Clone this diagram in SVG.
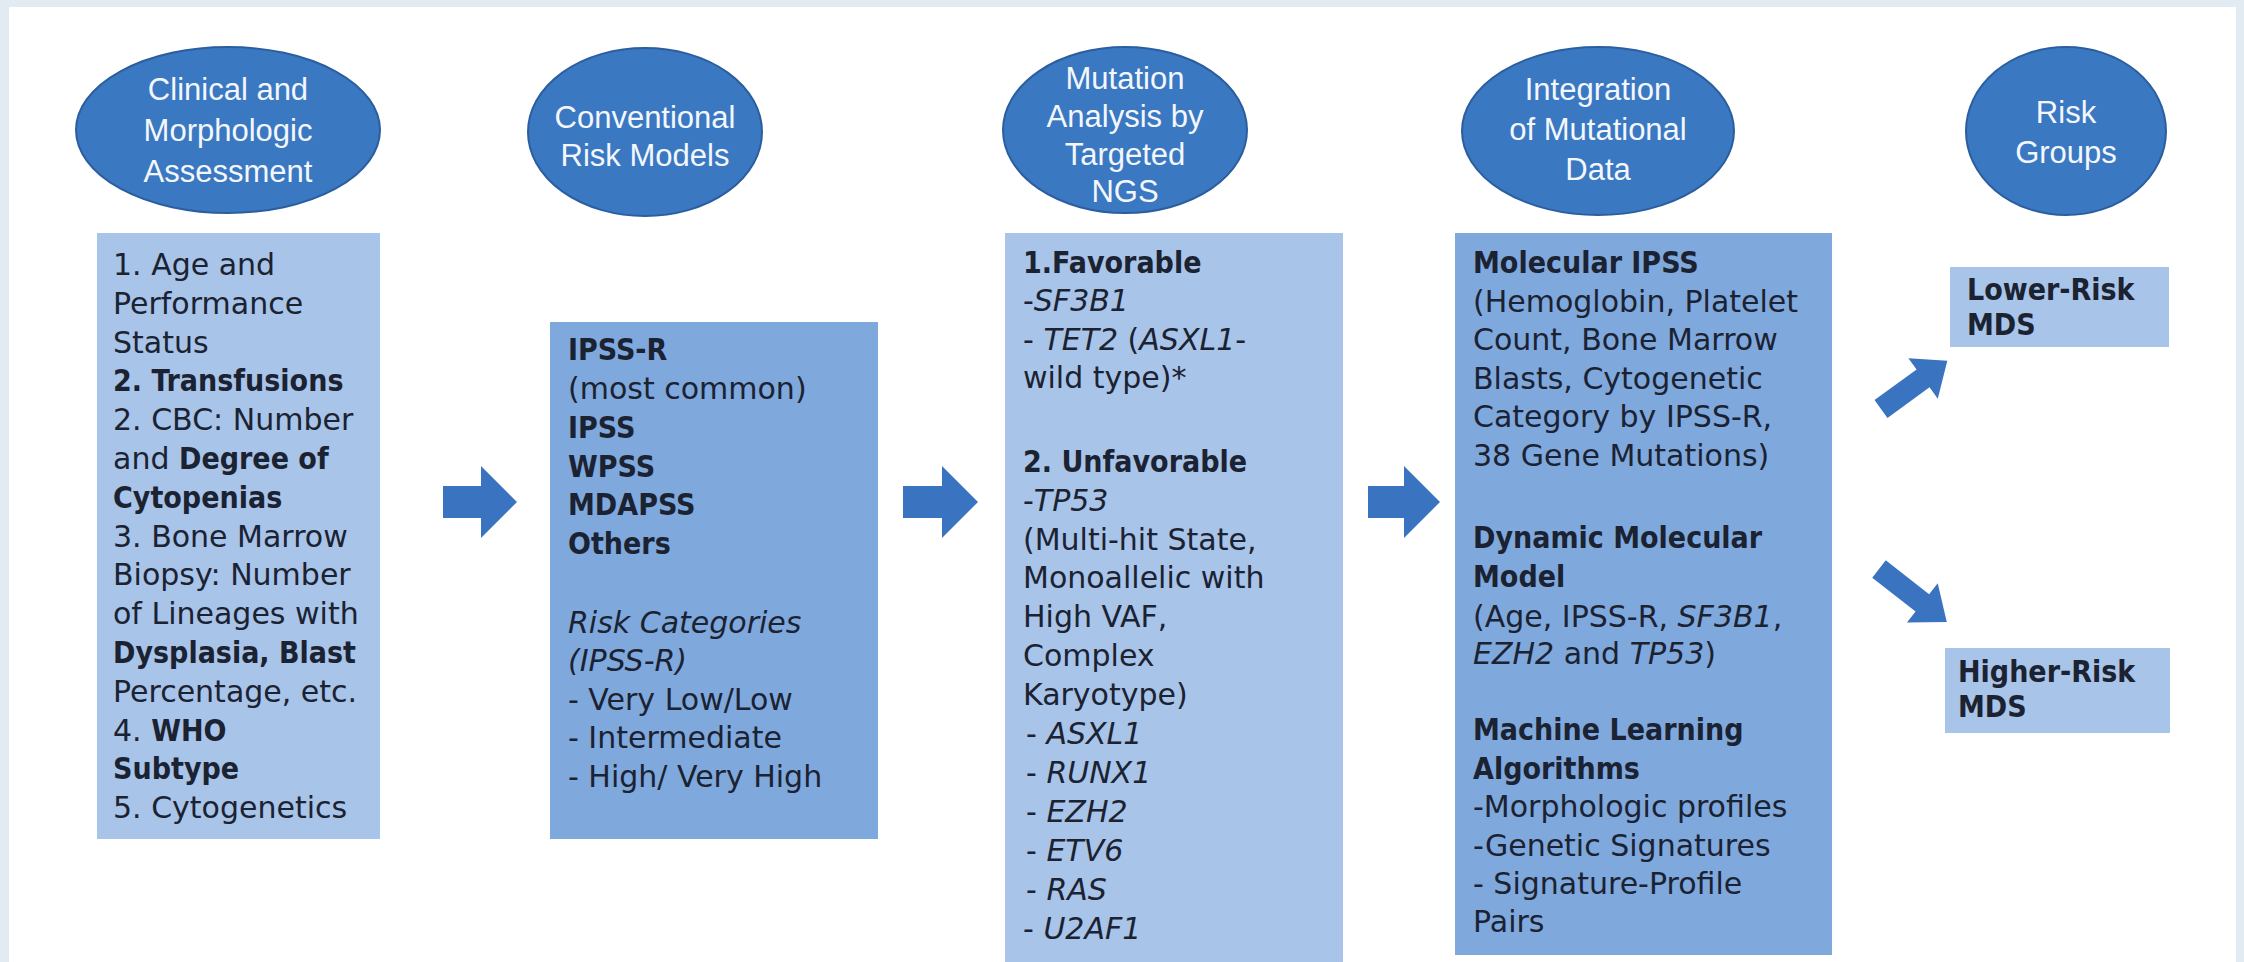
<svg xmlns="http://www.w3.org/2000/svg" width="2244" height="962" viewBox="0 0 2244 962">
<style>
.ell{fill:#3b78c2;stroke:#2b5e9e;stroke-width:2}
.et{font-family:"Liberation Sans",Arial,sans-serif;font-size:31px;fill:#f3f7fc;text-anchor:middle}
.t{font-family:"DejaVu Sans",Verdana,sans-serif;font-size:30px;fill:#1b2232}
.bd{font-family:"DejaVu Sans Condensed","DejaVu Sans",Verdana,sans-serif;font-weight:bold;font-stretch:condensed}
.it{font-style:italic}
.light{fill:#a8c4e8}
.mid{fill:#7fa8dd}
.arr{fill:#3a74c0}
</style>
<rect x="0" y="0" width="2244" height="962" fill="#e2eaf2"/>
<rect x="9" y="7" width="2227" height="955" fill="#ffffff"/>

<g id="connectors">
<path class="arr" d="M443,486 L481,486 L481,466 L517,502 L481,538 L481,518 L443,518 Z"/>
<path class="arr" d="M903,486 L942,486 L942,466 L978,502 L942,538 L942,518 L903,518 Z"/>
<path class="arr" d="M1368,486 L1404,486 L1404,466 L1440,502 L1404,538 L1404,518 L1368,518 Z"/>
<path class="arr" transform="translate(1881,409) rotate(-36)" d="M0,-11 L52,-11 L52,-25 L82,0 L52,25 L52,11 L0,11 Z"/>
<path class="arr" transform="translate(1879,569) rotate(38)" d="M0,-11 L55,-11 L55,-25 L86,0 L55,25 L55,11 L0,11 Z"/>
</g>

<g id="h1">
<ellipse class="ell" cx="228" cy="130" rx="152" ry="83"/>
<text class="et"><tspan x="228" y="100">Clinical and</tspan><tspan x="228" y="141">Morphologic</tspan><tspan x="228" y="182">Assessment</tspan></text>
</g>
<g id="h2">
<ellipse class="ell" cx="645" cy="132" rx="117" ry="84"/>
<text class="et"><tspan x="645" y="128">Conventional</tspan><tspan x="645" y="166">Risk Models</tspan></text>
</g>
<g id="h3">
<ellipse class="ell" cx="1125" cy="130" rx="122" ry="83"/>
<text class="et"><tspan x="1125" y="89">Mutation</tspan><tspan x="1125" y="127">Analysis by</tspan><tspan x="1125" y="165">Targeted</tspan><tspan x="1125" y="202">NGS</tspan></text>
</g>
<g id="h4">
<ellipse class="ell" cx="1598" cy="131" rx="136" ry="84"/>
<text class="et"><tspan x="1598" y="100">Integration</tspan><tspan x="1598" y="140">of Mutational</tspan><tspan x="1598" y="180">Data</tspan></text>
</g>
<g id="h5">
<ellipse class="ell" cx="2066" cy="131" rx="100" ry="84"/>
<text class="et"><tspan x="2066" y="123">Risk</tspan><tspan x="2066" y="163">Groups</tspan></text>
</g>

<g id="box1">
<rect class="light" x="97" y="233" width="283" height="606"/>
<text class="t">
<tspan x="113" y="275">1. Age and</tspan>
<tspan x="113" y="314">Performance</tspan>
<tspan x="113" y="353">Status</tspan>
<tspan x="113" y="391" class="bd">2. Transfusions</tspan>
<tspan x="113" y="430">2. CBC: Number</tspan>
<tspan x="113" y="469">and <tspan class="bd">Degree of</tspan></tspan>
<tspan x="113" y="508" class="bd">Cytopenias</tspan>
<tspan x="113" y="547">3. Bone Marrow</tspan>
<tspan x="113" y="585">Biopsy: Number</tspan>
<tspan x="113" y="624">of Lineages with</tspan>
<tspan x="113" y="663" class="bd">Dysplasia, Blast</tspan>
<tspan x="113" y="702">Percentage, etc.</tspan>
<tspan x="113" y="741">4. <tspan class="bd">WHO</tspan></tspan>
<tspan x="113" y="779" class="bd">Subtype</tspan>
<tspan x="113" y="818">5. Cytogenetics</tspan>
</text>
</g>

<g id="box2">
<rect class="mid" x="550" y="322" width="328" height="517"/>
<text class="t">
<tspan x="568" y="360" class="bd">IPSS-R</tspan>
<tspan x="568" y="399">(most common)</tspan>
<tspan x="568" y="438" class="bd">IPSS</tspan>
<tspan x="568" y="477" class="bd">WPSS</tspan>
<tspan x="568" y="515" class="bd">MDAPSS</tspan>
<tspan x="568" y="554" class="bd">Others</tspan>
<tspan x="568" y="633" class="it">Risk Categories</tspan>
<tspan x="568" y="671" class="it">(IPSS-R)</tspan>
<tspan x="568" y="710">- Very Low/Low</tspan>
<tspan x="568" y="748">- Intermediate</tspan>
<tspan x="568" y="787">- High/ Very High</tspan>
</text>
</g>

<g id="box3">
<rect class="light" x="1005" y="233" width="338" height="729"/>
<text class="t">
<tspan x="1023" y="273" class="bd">1.Favorable</tspan>
<tspan x="1023" y="311">-<tspan class="it">SF3B1</tspan></tspan>
<tspan x="1023" y="350">- <tspan class="it">TET2</tspan> (<tspan class="it">ASXL1</tspan>-</tspan>
<tspan x="1023" y="388">wild type)*</tspan>
<tspan x="1023" y="472" class="bd">2. Unfavorable</tspan>
<tspan x="1023" y="511">-<tspan class="it">TP53</tspan></tspan>
<tspan x="1023" y="550">(Multi-hit State,</tspan>
<tspan x="1023" y="588">Monoallelic with</tspan>
<tspan x="1023" y="627">High VAF,</tspan>
<tspan x="1023" y="666">Complex</tspan>
<tspan x="1023" y="705">Karyotype)</tspan>
<tspan x="1026" y="744">- <tspan class="it">ASXL1</tspan></tspan>
<tspan x="1026" y="783">- <tspan class="it">RUNX1</tspan></tspan>
<tspan x="1026" y="822">- <tspan class="it">EZH2</tspan></tspan>
<tspan x="1026" y="861">- <tspan class="it">ETV6</tspan></tspan>
<tspan x="1026" y="900">- <tspan class="it">RAS</tspan></tspan>
<tspan x="1023" y="939">-  <tspan class="it">U2AF1</tspan></tspan>
</text>
</g>

<g id="box4">
<rect class="mid" x="1455" y="233" width="377" height="722"/>
<text class="t">
<tspan x="1473" y="273" class="bd">Molecular IPSS</tspan>
<tspan x="1473" y="312">(Hemoglobin, Platelet</tspan>
<tspan x="1473" y="350">Count, Bone Marrow</tspan>
<tspan x="1473" y="389">Blasts, Cytogenetic</tspan>
<tspan x="1473" y="427">Category by IPSS-R,</tspan>
<tspan x="1473" y="466">38 Gene Mutations)</tspan>
<tspan x="1473" y="548" class="bd">Dynamic Molecular</tspan>
<tspan x="1473" y="587" class="bd">Model</tspan>
<tspan x="1473" y="627">(Age, IPSS-R, <tspan class="it">SF3B1</tspan>,</tspan>
<tspan x="1473" y="664"><tspan class="it">EZH2</tspan> and  <tspan class="it">TP53</tspan>)</tspan>
<tspan x="1473" y="740" class="bd">Machine Learning</tspan>
<tspan x="1473" y="779" class="bd">Algorithms</tspan>
<tspan x="1473" y="817">-Morphologic profiles</tspan>
<tspan x="1473" y="856">-Genetic Signatures</tspan>
<tspan x="1473" y="894">- Signature-Profile</tspan>
<tspan x="1473" y="932">Pairs</tspan>
</text>
</g>

<g id="lower">
<rect class="light" x="1950" y="267" width="219" height="80"/>
<text class="t bd"><tspan x="1967" y="300">Lower-Risk</tspan><tspan x="1967" y="335">MDS</tspan></text>
</g>
<g id="higher">
<rect class="light" x="1945" y="648" width="225" height="85"/>
<text class="t bd"><tspan x="1958" y="682">Higher-Risk</tspan><tspan x="1958" y="717">MDS</tspan></text>
</g>
</svg>
